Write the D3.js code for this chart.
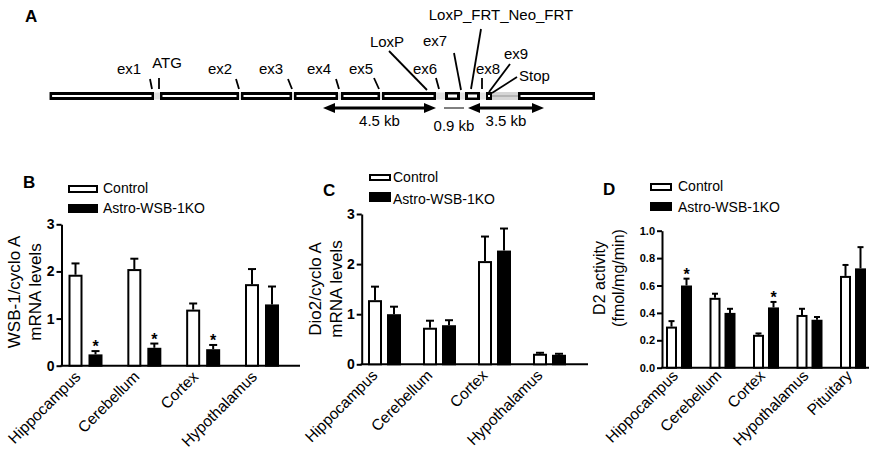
<!DOCTYPE html>
<html>
<head>
<meta charset="utf-8">
<script src="https://cdn.jsdelivr.net/npm/d3@7"></script>
<style>
body { margin: 0; background: #fff; }
svg { display: block; font-family: "Liberation Sans", Arial, sans-serif; }
</style>
</head>
<body>
<div id="fig"></div>
<script>
// ---- panel A: gene map, positions in map units from the left end ----
var mapSegments = [[0.6, 105], [111, 190], [192, 243], [245, 289], [292, 331], [333, 387], [469, 546]]
var mapBoxes = [[396, 411], [416, 431], [437, 443]]
var mapGrey = [443, 469]
var mapLabels = [
    {text: "ex1", x: 80, y: 74, l: [101, 79, 103, 89]},
    {text: "ATG", x: 118, y: 68, l: [110, 78, 110, 89]},
    {text: "ex2", x: 171, y: 74, l: [187, 79, 190, 89]},
    {text: "ex3", x: 222, y: 74, l: [239, 79, 243, 89]},
    {text: "ex4", x: 270, y: 74, l: [287, 79, 290, 89]},
    {text: "ex5", x: 312, y: 74, l: [325, 78, 330, 89]},
    {text: "LoxP", x: 338, y: 47, l: [340, 51, 378, 90]},
    {text: "ex6", x: 376, y: 74, l: [387, 78, 390, 89]},
    {text: "ex7", x: 386, y: 46, l: [405, 53, 412, 90]},
    {text: "LoxP_FRT_Neo_FRT", x: 452, y: 20, l: [432, 29, 422, 89]},
    {text: "ex8", x: 439, y: 74, l: [433, 78, 433, 89]},
    {text: "ex9", x: 467, y: 59, l: [461, 64, 440, 92]},
    {text: "Stop", x: 470, y: 81, anchor: "start", l: [468, 77, 443, 93]}
]
var mapArrows = [
    {from: 274, to: 387, label: "4.5 kb", ly: 126, heads: true},
    {from: 395, to: 415, label: "0.9 kb", ly: 131, heads: false},
    {from: 419, to: 495, label: "3.5 kb", ly: 126, heads: true}
]

// ---- bar panels ----
var brainRegions = ["Hippocampus", "Cerebellum", "Cortex", "Hypothalamus"]
var d2Regions = ["Hippocampus", "Cerebellum", "Cortex", "Hypothalamus", "Pituitary"]
var seriesNames = ["Control", "Astro-WSB-1KO"]

// B: WSB-1 / cyclo A
var wsbControl = [1.93, 2.05, 1.19, 1.73]
var wsbControlErr = [0.24, 0.22, 0.13, 0.32]
var wsbKO = [0.24, 0.38, 0.35, 1.30]
var wsbKOErr = [0.07, 0.09, 0.09, 0.38]
var wsbStars = [true, true, true, false]

// C: Dio2 / cyclo A
var dioControl = [1.28, 0.73, 2.06, 0.21]
var dioControlErr = [0.27, 0.14, 0.49, 0.02]
var dioKO = [1.00, 0.78, 2.27, 0.19]
var dioKOErr = [0.15, 0.10, 0.44, 0.02]
var dioStars = [false, false, false, false]

// D: D2 activity
var d2Control = [0.30, 0.51, 0.24, 0.385, 0.67]
var d2ControlErr = [0.04, 0.03, 0.01, 0.045, 0.08]
var d2KO = [0.60, 0.40, 0.44, 0.35, 0.725]
var d2KOErr = [0.05, 0.03, 0.04, 0.02, 0.155]
var d2Stars = [true, false, true, false, false]

var svg = d3.select("#fig").append("svg").attr("width", 876).attr("height", 458)

// ================= panel A =================
var mx = d3.scaleLinear().domain([0, 547]).range([49, 596])
var gA = svg.append("g")

gA.append("text").attr("x", 25).attr("y", 22).attr("font-size", 17).attr("font-weight", "bold").text("A")

gA.append("rect").attr("x", mx(0)).attr("y", 92.5).attr("width", mx(546) - mx(0)).attr("height", 7)
    .attr("fill", "#e2e2e2")
gA.append("rect").attr("x", mx(mapGrey[0])).attr("y", 92).attr("width", mx(mapGrey[1]) - mx(mapGrey[0])).attr("height", 8)
    .attr("fill", "#d6d6d6")
gA.append("line").attr("x1", mx(mapGrey[0])).attr("x2", mx(mapGrey[1])).attr("y1", 96).attr("y2", 96)
    .attr("stroke", "#aaa").attr("stroke-width", 1.5)

gA.selectAll(".seg").data(mapSegments).enter().append("rect")
    .attr("x", d => mx(d[0])).attr("y", 92).attr("width", d => mx(d[1]) - mx(d[0])).attr("height", 8)
    .attr("fill", "#000")
gA.selectAll(".segin").data(mapSegments).enter().append("rect")
    .attr("x", d => mx(d[0]) + 2.5).attr("y", 95).attr("width", d => mx(d[1]) - mx(d[0]) - 5).attr("height", 2)
    .attr("fill", "#fff")

gA.selectAll(".box").data(mapBoxes).enter().append("rect")
    .attr("x", d => mx(d[0])).attr("y", 92).attr("width", d => mx(d[1]) - mx(d[0])).attr("height", 8)
    .attr("fill", "#000")
gA.selectAll(".boxin").data(mapBoxes).enter().append("rect")
    .attr("x", d => mx(d[0]) + (mx(d[1]) - mx(d[0]) > 8 ? 3 : 2))
    .attr("y", d => mx(d[1]) - mx(d[0]) > 8 ? 94.5 : 95)
    .attr("width", d => (mx(d[1]) - mx(d[0])) - (mx(d[1]) - mx(d[0]) > 8 ? 6 : 4))
    .attr("height", d => mx(d[1]) - mx(d[0]) > 8 ? 3 : 2)
    .attr("fill", "#fff")

gA.selectAll(".lead").data(mapLabels).enter().append("line")
    .attr("x1", d => mx(d.l[0])).attr("y1", d => d.l[1])
    .attr("x2", d => mx(d.l[2])).attr("y2", d => d.l[3])
    .attr("stroke", "#000").attr("stroke-width", 1.8)

gA.selectAll(".lab").data(mapLabels).enter().append("text")
    .attr("x", d => mx(d.x)).attr("y", d => d.y)
    .attr("text-anchor", d => d.anchor || "middle")
    .attr("font-size", 15)
    .text(d => d.text)

mapArrows.forEach(function (a) {
    var x1 = mx(a.from), x2 = mx(a.to), y = 108
    if (a.heads) {
        gA.append("line").attr("x1", x1 + 8).attr("x2", x2 - 8).attr("y1", y).attr("y2", y)
            .attr("stroke", "#000").attr("stroke-width", 3)
        gA.append("path").attr("d", `M${x1},${y}L${x1 + 12},${y - 5}L${x1 + 12},${y + 5}Z`).attr("fill", "#000")
        gA.append("path").attr("d", `M${x2},${y}L${x2 - 12},${y - 5}L${x2 - 12},${y + 5}Z`).attr("fill", "#000")
    } else {
        gA.append("line").attr("x1", x1).attr("x2", x2).attr("y1", y).attr("y2", y)
            .attr("stroke", "#000").attr("stroke-width", 1)
    }
    gA.append("text").attr("x", (x1 + x2) / 2).attr("y", a.ly).attr("text-anchor", "middle")
        .attr("font-size", 15).text(a.label)
})

// ================= bar panels =================
function barPanel(p) {
    var g = svg.append("g")
    var y = d3.scaleLinear().domain(p.domain).range([p.y0, p.y1])
    var x = d3.scalePoint().domain(p.cats).range([p.xFirst, p.xLast])

    // panel letter
    g.append("text").attr("x", p.letter[1]).attr("y", p.letter[2]).attr("font-size", 17)
        .attr("font-weight", "bold").text(p.letter[0])

    // legend
    var lg = p.legend
    g.append("rect").attr("x", lg.x + 1).attr("y", lg.y1 + 1).attr("width", lg.w - 2).attr("height", lg.h1 - 2)
        .attr("fill", "#fff").attr("stroke", "#000").attr("stroke-width", 2)
    g.append("rect").attr("x", lg.x).attr("y", lg.y2).attr("width", lg.w).attr("height", lg.h2).attr("fill", "#000")
    g.append("text").attr("x", lg.tx).attr("y", lg.t1).attr("font-size", 14).text(seriesNames[0])
    g.append("text").attr("x", lg.tx).attr("y", lg.t2).attr("font-size", 14).text(seriesNames[1])

    // y axis
    var ax = g.append("g").attr("transform", `translate(${p.axisX},0)`)
        .call(d3.axisLeft(y).tickValues(p.ticks).tickFormat(d3.format(p.fmt)).tickSize(5).tickSizeOuter(0).tickPadding(2))
    ax.select(".domain").attr("stroke-width", 2)
    ax.selectAll(".tick line").attr("stroke-width", 2)
    ax.selectAll(".tick text").attr("font-size", p.tickFont).attr("font-weight", "bold")
        .attr("font-family", "'Liberation Sans', Arial, sans-serif").attr("fill", "#000")

    // x axis baseline
    g.append("line").attr("x1", p.axisX - 1).attr("x2", p.xEnd).attr("y1", y(0)).attr("y2", y(0))
        .attr("stroke", "#000").attr("stroke-width", 2)

    // axis title
    var tt = g.append("text").attr("font-size", p.titleFont).attr("text-anchor", "middle")
        .attr("transform", `translate(0,${p.titleY}) rotate(-90)`)
    tt.append("tspan").attr("x", 0).attr("y", p.titleX[0]).text(p.title[0])
    tt.append("tspan").attr("x", 0).attr("y", p.titleX[1]).text(p.title[1])

    // bars
    var series = [
        {vals: p.control, errs: p.controlErr, dx: -p.off, fill: "#fff"},
        {vals: p.ko, errs: p.koErr, dx: p.off, fill: "#000"}
    ]
    series.forEach(function (s) {
        var cx = (d, i) => x(p.cats[i]) + s.dx
        g.selectAll(null).data(s.vals).enter().append("line")
            .attr("x1", cx).attr("x2", cx)
            .attr("y1", d => y(d)).attr("y2", (d, i) => y(d + s.errs[i]))
            .attr("stroke", "#000").attr("stroke-width", 2)
        g.selectAll(null).data(s.vals).enter().append("line")
            .attr("x1", (d, i) => cx(d, i) - p.cap / 2).attr("x2", (d, i) => cx(d, i) + p.cap / 2)
            .attr("y1", (d, i) => y(d + s.errs[i])).attr("y2", (d, i) => y(d + s.errs[i]))
            .attr("stroke", "#000").attr("stroke-width", 2)
        g.selectAll(null).data(s.vals).enter().append("rect")
            .attr("x", (d, i) => cx(d, i) - p.barW / 2 + 1)
            .attr("y", d => y(d) + 1)
            .attr("width", p.barW - 2)
            .attr("height", d => y(0) - y(d) - 1)
            .attr("fill", s.fill).attr("stroke", "#000").attr("stroke-width", 2)
    })

    // significance stars
    var starIdx = p.stars.map((s, i) => s ? i : -1).filter(i => i >= 0)
    g.selectAll(null).data(starIdx).enter().append("text")
        .attr("x", i => x(p.cats[i]) + p.off)
        .attr("y", i => y(p.ko[i] + p.koErr[i]) + 1)
        .attr("text-anchor", "middle").attr("font-size", 16).attr("font-weight", "bold")
        .text("*")

    // category labels
    g.selectAll(null).data(p.cats).enter().append("text")
        .attr("text-anchor", "end").attr("font-size", p.labelFont)
        .attr("transform", d => `translate(${x(d) + p.labelDx},${y(0) + p.labelDy}) rotate(-45)`)
        .text(d => d)
}

barPanel({
    letter: ["B", 23, 188],
    legend: {x: 68, w: 30, y1: 185, h1: 8, y2: 204, h2: 9, tx: 103, t1: 193, t2: 213},
    cats: brainRegions, domain: [0, 3], y0: 365.7, y1: 224.3, ticks: [0, 1, 2, 3], fmt: "d", tickFont: 14,
    axisX: 61.5, xEnd: 300, xFirst: 85.5, xLast: 262, barW: 14, off: 10, cap: 8,
    control: wsbControl, controlErr: wsbControlErr, ko: wsbKO, koErr: wsbKOErr, stars: wsbStars,
    title: ["WSB-1/cyclo A", "mRNA levels"], titleFont: 17, titleY: 292, titleX: [20, 41],
    labelDx: -4, labelDy: 12, labelFont: 15.5
})

barPanel({
    letter: ["C", 323, 196],
    legend: {x: 369, w: 22, y1: 174, h1: 7, y2: 192, h2: 10, tx: 393, t1: 182, t2: 204},
    cats: brainRegions, domain: [0, 3], y0: 364.3, y1: 214, ticks: [0, 1, 2, 3], fmt: "d", tickFont: 14,
    axisX: 361.7, xEnd: 588, xFirst: 384.5, xLast: 549.5, barW: 14, off: 9.5, cap: 8,
    control: dioControl, controlErr: dioControlErr, ko: dioKO, koErr: dioKOErr, stars: dioStars,
    title: ["Dio2/cyclo A", "mRNA levels"], titleFont: 17, titleY: 289, titleX: [321, 342],
    labelDx: -6, labelDy: 12, labelFont: 15.5
})

barPanel({
    letter: ["D", 603, 195],
    legend: {x: 650, w: 22, y1: 183, h1: 8, y2: 202, h2: 9, tx: 678, t1: 191, t2: 212},
    cats: d2Regions, domain: [0, 1], y0: 367.7, y1: 230.7, ticks: [0, 0.2, 0.4, 0.6, 0.8, 1.0], fmt: ".1f", tickFont: 11,
    axisX: 662, xEnd: 869, xFirst: 679, xLast: 853, barW: 11, off: 7.5, cap: 6,
    control: d2Control, controlErr: d2ControlErr, ko: d2KO, koErr: d2KOErr, stars: d2Stars,
    title: ["D2 activity", "(fmol/mg/min)"], titleFont: 16, titleY: 278, titleX: [605, 624],
    labelDx: 0, labelDy: 9, labelFont: 15.5
})
</script>
</body>
</html>
